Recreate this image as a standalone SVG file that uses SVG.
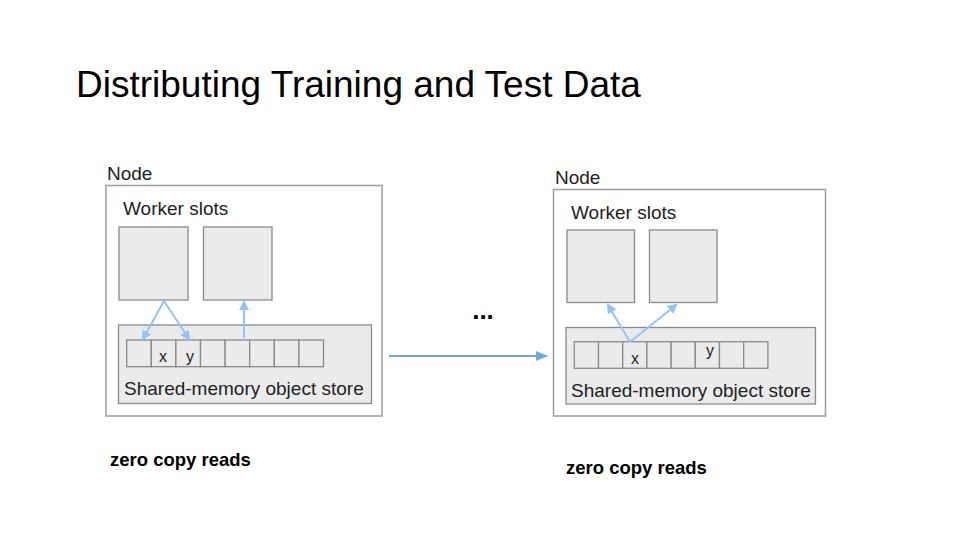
<svg xmlns="http://www.w3.org/2000/svg" width="960" height="540" viewBox="0 0 960 540">
<style>
text{font-family:"Liberation Sans",Arial,sans-serif;fill:#222}
.outer{fill:#fff;stroke:#9e9e9e;stroke-width:1.5}
.box{fill:#ebebeb;stroke:#8a8a8a;stroke-width:1.3}
.cell{fill:#ebebeb;stroke:#8a8a8a;stroke-width:1.3}
.lbl{font-size:19px}
.sm{font-size:16px}
.zc{font-size:18.5px;font-weight:bold;fill:#000}
.arr{stroke:#94c4f5;stroke-width:2;fill:none;marker-end:url(#ah)}
.arr2{stroke:#6fa8dc;stroke-width:2;fill:none;marker-end:url(#ah2)}
</style>
<defs>
<marker id="ah" markerWidth="10" markerHeight="10" refX="8" refY="5" orient="auto" markerUnits="userSpaceOnUse"><path d="M0,0 L10,5 L0,10 z" fill="#94c4f5"/></marker>
<marker id="ah2" markerWidth="12" markerHeight="10" refX="11" refY="5" orient="auto" markerUnits="userSpaceOnUse"><path d="M0,0 L12,5 L0,10 z" fill="#6fa8dc"/></marker>
</defs>
<rect width="960" height="540" fill="#fff"/>
<text x="76" y="97" font-size="37" style="fill:#000">Distributing Training and Test Data</text>

<g id="node1">
<text x="107" y="180" class="lbl">Node</text>
<rect class="outer" x="106" y="185.5" width="276" height="230.5"/>
<text x="123" y="215" class="lbl">Worker slots</text>
<rect id="n1w1" class="box" x="119" y="227" width="69" height="73"/>
<rect id="n1w2" class="box" x="203.5" y="227" width="68.5" height="73"/>
<rect class="box" x="118.5" y="325" width="253" height="78.5"/>
<g id="n1cells">
<rect class="cell" x="126.7" y="340" width="24.6" height="26.7"/>
<rect class="cell" x="151.3" y="340" width="24.6" height="26.7"/>
<rect class="cell" x="175.9" y="340" width="24.6" height="26.7"/>
<rect class="cell" x="200.5" y="340" width="24.6" height="26.7"/>
<rect class="cell" x="225.1" y="340" width="24.6" height="26.7"/>
<rect class="cell" x="249.7" y="340" width="24.6" height="26.7"/>
<rect class="cell" x="274.3" y="340" width="24.6" height="26.7"/>
<rect class="cell" x="298.9" y="340" width="24.6" height="26.7"/>
</g>
<text x="163" y="362" class="sm" text-anchor="middle">x</text>
<text x="190" y="362" class="sm" text-anchor="middle">y</text>
<text x="124" y="395" class="lbl">Shared-memory object store</text>
</g>

<g id="node2">
<text x="555" y="184" class="lbl">Node</text>
<rect class="outer" x="553.5" y="189.5" width="272" height="226.5"/>
<text x="571" y="219" class="lbl">Worker slots</text>
<rect id="n2w1" class="box" x="567" y="230" width="67.5" height="72.5"/>
<rect id="n2w2" class="box" x="649.5" y="230" width="67.5" height="72.5"/>
<rect class="box" x="566" y="327.5" width="249.5" height="76.5"/>
<g id="n2cells">
<rect class="cell" x="574.3" y="341.7" width="24.2" height="26.6"/>
<rect class="cell" x="598.5" y="341.7" width="24.2" height="26.6"/>
<rect class="cell" x="622.7" y="341.7" width="24.2" height="26.6"/>
<rect class="cell" x="646.9" y="341.7" width="24.2" height="26.6"/>
<rect class="cell" x="671.1" y="341.7" width="24.2" height="26.6"/>
<rect class="cell" x="695.3" y="341.7" width="24.2" height="26.6"/>
<rect class="cell" x="719.5" y="341.7" width="24.2" height="26.6"/>
<rect class="cell" x="743.7" y="341.7" width="24.2" height="26.6"/>
</g>
<text x="635" y="364" class="sm" text-anchor="middle">x</text>
<text x="710" y="356" class="sm" text-anchor="middle">y</text>
<text x="571" y="397" class="lbl">Shared-memory object store</text>
</g>

<g id="connectors">
<path class="arr" d="M164,301 L143,339"/>
<path class="arr" d="M164,301 L189,339"/>
<path class="arr" d="M244,338 L244,302"/>
<path class="arr" d="M630,342 L608,305"/>
<path class="arr" d="M630,342 L676,305"/>
<path class="arr2" d="M389,356 L547,356"/>
</g>

<text x="483" y="319" font-size="26" font-weight="bold" text-anchor="middle" style="fill:#000">...</text>
<text x="110" y="466" class="zc">zero copy reads</text>
<text x="566" y="474" class="zc">zero copy reads</text>
</svg>
